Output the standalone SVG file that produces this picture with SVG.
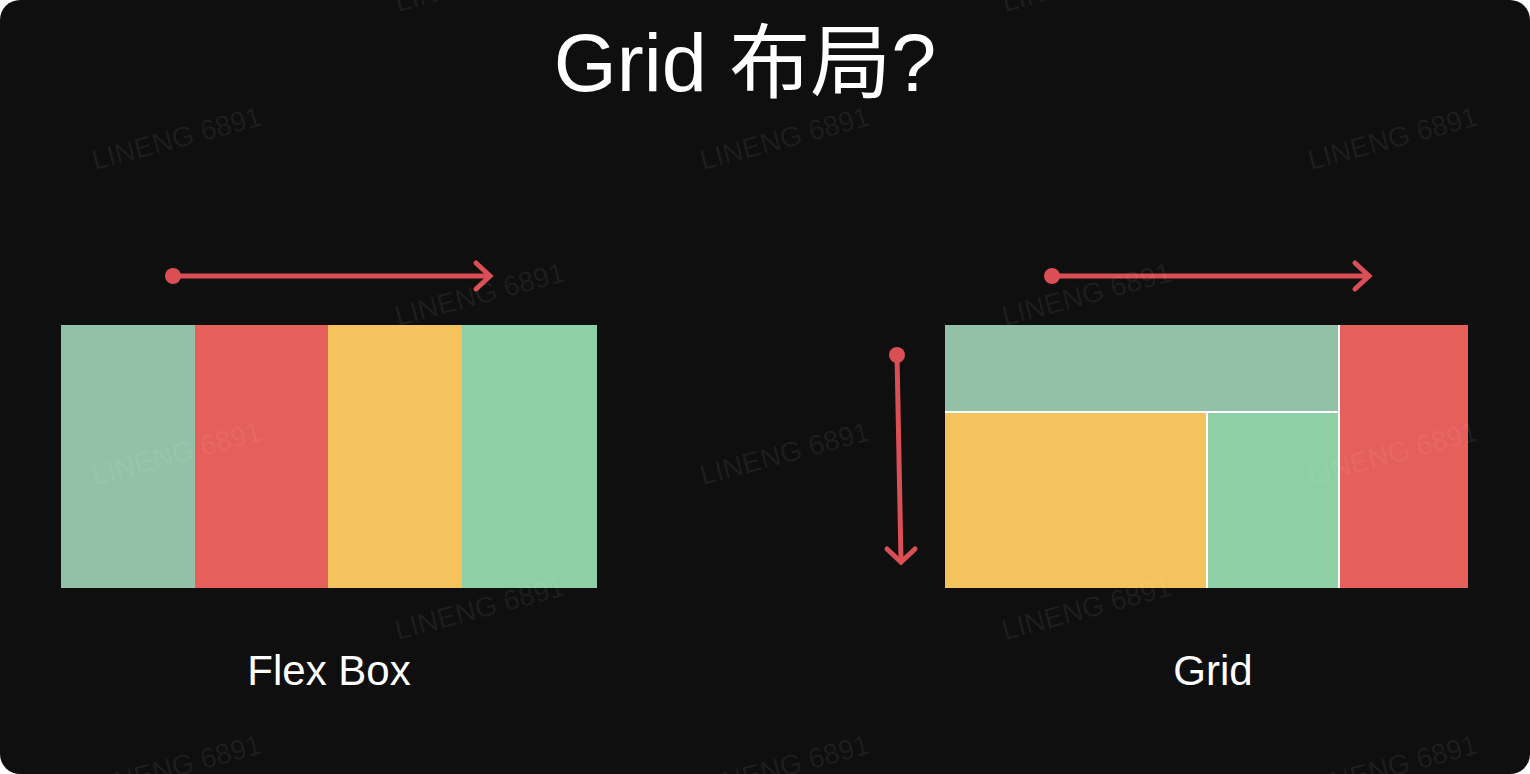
<svg xmlns="http://www.w3.org/2000/svg" width="1530" height="774" viewBox="0 0 1530 774">
  <defs>
    <style>
      .wm { font-family: "Liberation Sans", Arial, sans-serif; font-size: 28px; fill: #ffffff; fill-opacity: 0.065; }
      .title { font-family: "Liberation Sans", "Noto Sans CJK SC", sans-serif; font-size: 81px; fill: #ffffff; }
      .label { font-family: "Liberation Sans", Arial, sans-serif; font-size: 42px; fill: #ffffff; }
      .arrow { stroke: #d94f55; stroke-width: 5; fill: none; stroke-linecap: round; stroke-linejoin: miter; }
      .dot { fill: #d94f55; }
    </style>
  </defs>
  <rect x="0" y="0" width="1530" height="774" fill="#ffffff"/>
  <rect x="0" y="0" width="1530" height="774" rx="20" ry="20" fill="#0f0f0f"/>

  <g id="title">
    <text class="title" x="745" y="91" text-anchor="middle">Grid 布局?</text>
  </g>

  <g id="flexbox">
    <rect x="61" y="325" width="134" height="263" fill="#93c1a8"/>
    <rect x="195" y="325" width="133" height="263" fill="#e5605a"/>
    <rect x="328" y="325" width="134" height="263" fill="#f4c35e"/>
    <rect x="462" y="325" width="135" height="263" fill="#8ecfa5"/>
  </g>

  <g id="grid">
    <rect x="945" y="325" width="523" height="263" fill="#ffffff"/>
    <rect x="945" y="325" width="393" height="86" fill="#93c1a8"/>
    <rect x="945" y="413" width="261" height="175" fill="#f4c35e"/>
    <rect x="1208" y="413" width="130" height="175" fill="#8ecfa5"/>
    <rect x="1340" y="325" width="128" height="263" fill="#e5605a"/>
  </g>

  <g id="connectors">
    <circle class="dot" cx="173" cy="276" r="8"/>
    <line class="arrow" x1="173" y1="276" x2="489" y2="276"/>
    <polyline class="arrow" points="476,263 490,276 476,289"/>

    <circle class="dot" cx="1052" cy="276" r="8"/>
    <line class="arrow" x1="1052" y1="276" x2="1368" y2="276"/>
    <polyline class="arrow" points="1355,263 1369,276 1355,289"/>

    <circle class="dot" cx="897" cy="355" r="8"/>
    <line class="arrow" x1="897" y1="355" x2="901" y2="561"/>
    <polyline class="arrow" points="887,549 901,562 915,549"/>
  </g>

  <g id="label-flexbox">
    <text class="label" x="329" y="685" text-anchor="middle">Flex Box</text>
  </g>
  <g id="label-grid">
    <text class="label" x="1213" y="685" text-anchor="middle">Grid</text>
  </g>

  <g id="watermarks">
    <text class="wm" transform="translate(398,12) rotate(-15)">LINENG 6891</text>
    <text class="wm" transform="translate(1005,12) rotate(-15)">LINENG 6891</text>
    <text class="wm" transform="translate(95,170) rotate(-15)">LINENG 6891</text>
    <text class="wm" transform="translate(703,170) rotate(-15)">LINENG 6891</text>
    <text class="wm" transform="translate(1311,170) rotate(-15)">LINENG 6891</text>
    <text class="wm" transform="translate(398,326) rotate(-15)">LINENG 6891</text>
    <text class="wm" transform="translate(1005,326) rotate(-15)">LINENG 6891</text>
    <text class="wm" transform="translate(95,485) rotate(-15)">LINENG 6891</text>
    <text class="wm" transform="translate(703,485) rotate(-15)">LINENG 6891</text>
    <text class="wm" transform="translate(1311,485) rotate(-15)">LINENG 6891</text>
    <text class="wm" transform="translate(398,640) rotate(-15)">LINENG 6891</text>
    <text class="wm" transform="translate(1005,640) rotate(-15)">LINENG 6891</text>
    <text class="wm" transform="translate(95,798) rotate(-15)">LINENG 6891</text>
    <text class="wm" transform="translate(703,798) rotate(-15)">LINENG 6891</text>
    <text class="wm" transform="translate(1311,798) rotate(-15)">LINENG 6891</text>
  </g>
</svg>
